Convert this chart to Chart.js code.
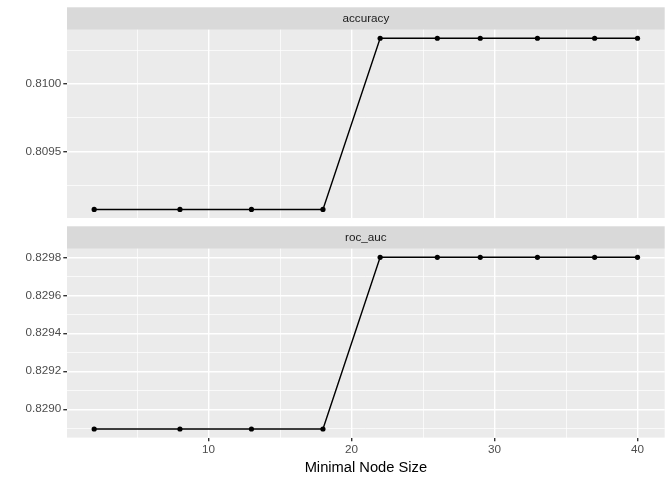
<!DOCTYPE html>
<html lang="en">
<head>
  <meta charset="UTF-8">
  <title>Minimal Node Size tuning</title>
  <script src="https://cdn.jsdelivr.net/npm/chart.js"></script>
  <style>
    body { margin: 0; background: #ffffff; }
    #wrap { position: relative; width: 672px; height: 480px; }
    #wrap .panel { position: absolute; left: 0; width: 672px; }
  </style>
</head>
<body>
  <div id="wrap">
    <div class="panel" style="top:0;height:222px"><canvas id="accChart"></canvas></div>
    <div class="panel" style="top:222px;height:258px"><canvas id="rocChart"></canvas></div>
  </div>

  <script>
    // data
    const minNodeSize = [2, 8, 13, 18, 22, 26, 29, 33, 37, 40];
    const accuracy = [0.809069, 0.809069, 0.809069, 0.809069, 0.810338, 0.810338, 0.810338, 0.810338, 0.810338, 0.810338];
    const rocAuc = [0.828896, 0.828896, 0.828896, 0.828896, 0.829800, 0.829800, 0.829800, 0.829800, 0.829800, 0.829800];

    // breaks
    const xMajor = [10, 20, 30, 40];
    const xMinor = [5, 15, 25, 35];
    const accMajor = [0.8095, 0.8100];
    const accMinor = [0.80925, 0.80975, 0.81025];
    const rocMajor = [0.8290, 0.8292, 0.8294, 0.8296, 0.8298];
    const rocMinor = [0.8289, 0.8291, 0.8293, 0.8295, 0.8297];

    const FONT = '"Liberation Sans", Arial, Helvetica, sans-serif';

    function expand(vals, mult) {
      const lo = Math.min(...vals), hi = Math.max(...vals);
      const pad = (hi - lo) * mult;
      return [lo - pad, hi + pad];
    }

    function breakTicks(major, minor) {
      return function (scale) {
        const t = major.map(v => ({ value: v, isMajor: true }))
          .concat(minor.map(v => ({ value: v, isMajor: false })));
        t.sort((a, b) => a.value - b.value);
        scale.ticks = t.filter(k => k.value >= scale.min && k.value <= scale.max);
      };
    }

    const gridWidth = ctx => (ctx.tick && ctx.tick.isMajor ? 1.4 : 0.7);
    const tickCol = ctx => (ctx.tick && ctx.tick.isMajor ? '#333333' : 'rgba(0,0,0,0)');

    function stripPlugin(label) {
      return {
        id: 'strip',
        beforeDraw(chart) {
          const a = chart.chartArea;
          const c = chart.ctx;
          c.save();
          c.fillStyle = '#EBEBEB';
          c.fillRect(a.left, a.top, a.right - a.left, a.bottom - a.top);
          c.fillStyle = '#D9D9D9';
          c.fillRect(a.left, a.top - 22.4, a.right - a.left, 22.4);
          c.fillStyle = '#1A1A1A';
          c.font = '11.7px ' + FONT;
          c.textAlign = 'center';
          c.textBaseline = 'middle';
          c.fillText(label, (a.left + a.right) / 2, a.top - 11.2);
          c.restore();
        }
      };
    }

    function makeChart(id, label, values, yMajor, yMinor, padTop, xHeight, showX) {
      const [xMin, xMax] = expand(minNodeSize, 0.05);
      const [yMin, yMax] = expand(values, 0.05);
      return new Chart(document.getElementById(id), {
        type: 'line',
        data: {
          labels: minNodeSize,
          datasets: [{
            data: minNodeSize.map((x, i) => ({ x: x, y: values[i] })),
            borderColor: '#000000',
            borderWidth: 1.4,
            pointRadius: 2.6,
            pointBorderWidth: 0,
            pointBackgroundColor: '#000000',
            tension: 0
          }]
        },
        options: {
          responsive: true,
          maintainAspectRatio: false,
          animation: false,
          layout: { padding: { top: padTop, right: 7.3, left: 0, bottom: 0 } },
          plugins: { legend: { display: false }, tooltip: { enabled: false } },
          scales: {
            x: {
              type: 'linear',
              min: xMin,
              max: xMax,
              afterBuildTicks: breakTicks(xMajor, xMinor),
              afterFit(scale) {
                scale.height = xHeight;
                scale.paddingLeft = 0;
                scale.paddingRight = 0;
              },
              border: { display: false },
              grid: {
                color: '#FFFFFF',
                lineWidth: gridWidth,
                drawTicks: showX,
                tickLength: 3.7,
                tickColor: tickCol,
                tickWidth: 1.4
              },
              ticks: {
                display: showX,
                autoSkip: false,
                maxRotation: 0,
                padding: 1,
                color: '#4D4D4D',
                font: { family: FONT, size: 11.7 },
                callback(value, i, ticks) { return ticks[i].isMajor ? String(value) : ''; }
              },
              title: {
                display: showX,
                text: 'Minimal Node Size',
                color: '#000000',
                font: { family: FONT, size: 14.7 },
                padding: { top: 0, bottom: 3 }
              }
            },
            y: {
              min: yMin,
              max: yMax,
              afterBuildTicks: breakTicks(yMajor, yMinor),
              afterFit(scale) {
                scale.width = 67;
                scale.paddingTop = 0;
                scale.paddingBottom = 0;
              },
              border: { display: false },
              grid: {
                color: '#FFFFFF',
                lineWidth: gridWidth,
                tickLength: 3.7,
                tickColor: tickCol,
                tickWidth: 1.4
              },
              ticks: {
                autoSkip: false,
                padding: 2,
                color: '#4D4D4D',
                font: { family: FONT, size: 11.7 },
                callback(value, i, ticks) { return ticks[i].isMajor ? value.toFixed(4) : ''; }
              }
            }
          }
        },
        plugins: [stripPlugin(label)]
      });
    }

    makeChart('accChart', 'accuracy', accuracy, accMajor, accMinor, 29.7, 3.4, false);
    makeChart('rocChart', 'roc_auc', rocAuc, rocMajor, rocMinor, 26.7, 42.4, true);
  </script>
</body>
</html>
